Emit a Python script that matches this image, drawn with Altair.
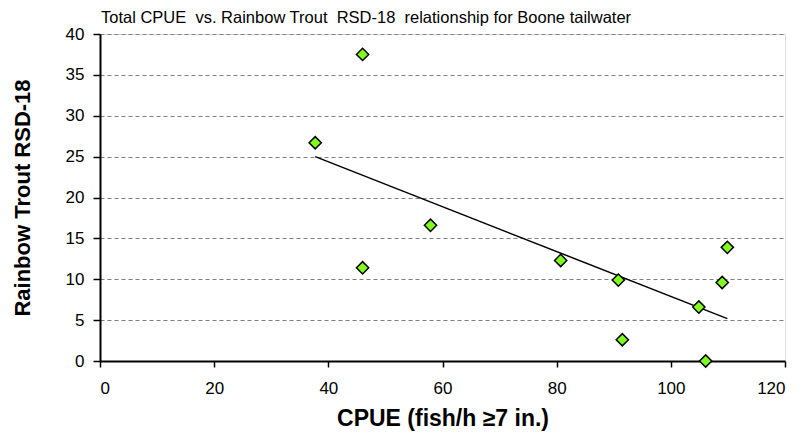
import altair as alt
import pandas as pd

cpue = [37.7, 46.0, 46.0, 57.9, 80.7, 90.8, 91.5, 104.9, 106.1, 109.0, 109.9]
rsd18 = [26.7, 37.5, 11.4, 16.6, 12.3, 9.9, 2.6, 6.6, 0.0, 9.6, 13.9]

x_ticks = [0, 20, 40, 60, 80, 100, 120]
y_ticks = [0, 5, 10, 15, 20, 25, 30, 35, 40]

title_text = ["Total CPUE\u00a0 vs. Rainbow Trout\u00a0 RSD-18\u00a0 relationship for Boone tailwater"]

df = pd.DataFrame({"cpue": cpue, "rsd": rsd18})

FONT = "Liberation Sans"

x_enc = alt.X(
    "cpue:Q",
    scale=alt.Scale(domain=[0, 120], nice=False),
    axis=alt.Axis(
        values=x_ticks,
        title="CPUE (fish/h \u22657 in.)",
        grid=False,
        domainColor="black",
        domainWidth=2,
        tickColor="black",
        tickWidth=1.5,
        tickSize=6,
        labelFont=FONT,
        labelFontSize=17,
        labelColor="black",
        labelPadding=13,
        titleFont=FONT,
        titleFontSize=23,
        titleFontWeight="bold",
        titleColor="black",
        titleY=64,
        titleBaseline="alphabetic",
    ),
)
y_enc = alt.Y(
    "rsd:Q",
    scale=alt.Scale(domain=[0, 40], nice=False),
    axis=alt.Axis(
        values=y_ticks,
        title="Rainbow Trout RSD-18",
        grid=True,
        gridColor="#808080",
        gridDash=[4, 3],
        gridWidth=1.2,
        domainColor="black",
        domainWidth=2,
        tickColor="black",
        tickWidth=1.5,
        tickSize=7,
        labelFont=FONT,
        labelFontSize=17,
        labelColor="black",
        labelPadding=9,
        titleFont=FONT,
        titleFontSize=22,
        titleFontWeight="bold",
        titleColor="black",
        titleX=-71,
        titleBaseline="alphabetic",
    ),
)

base = alt.Chart(df)

trend = base.transform_regression("cpue", "rsd").mark_line(
    color="black", strokeWidth=1.5
).encode(x=x_enc, y=y_enc)

points = base.mark_point(
    shape="diamond",
    filled=True,
    fill="#80FF1A",
    stroke="black",
    strokeWidth=1.5,
    size=150,
    opacity=1,
).encode(x=x_enc, y=y_enc)

title = alt.Chart(pd.DataFrame({"t": title_text})).mark_text(
    align="left",
    baseline="alphabetic",
    font=FONT,
    fontSize=16.5,
    color="black",
).encode(text="t:N", x=alt.value(1), y=alt.value(-11))

chart = (
    alt.layer(trend, points, title)
    .properties(
        width=685,
        height=327,
        autosize=alt.AutoSizeParams(type="none"),
        padding={"left": 92, "top": 26, "right": 10, "bottom": 70},
    )
    .configure_view(stroke="black", strokeWidth=1.5)
    .configure(background="white")
)

chart.save("out.html", embed_options={"renderer": "svg", "actions": False})
